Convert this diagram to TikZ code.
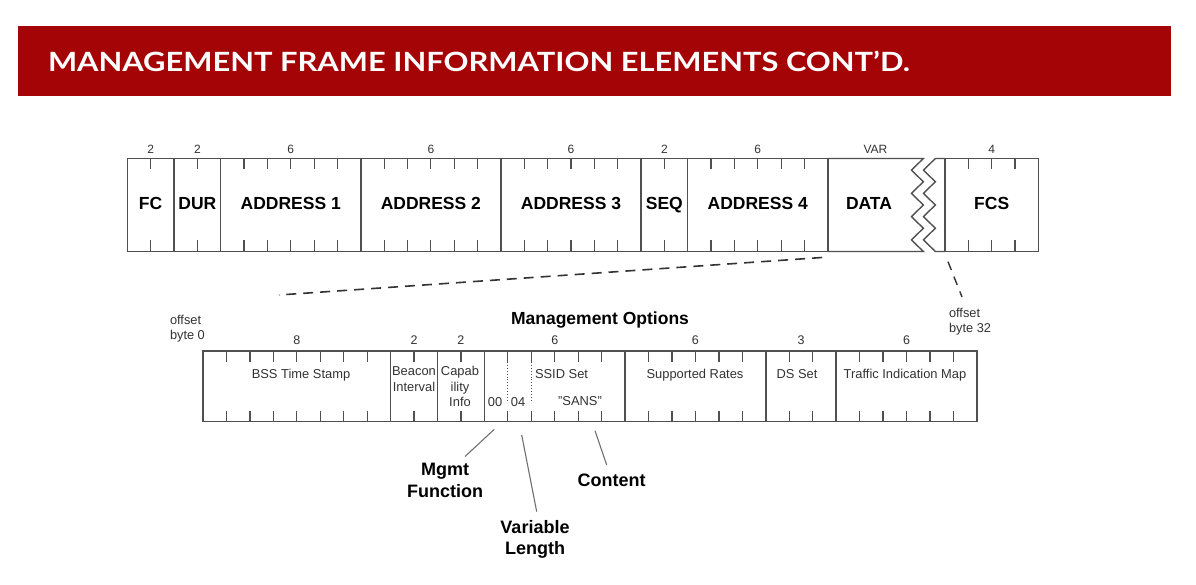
\documentclass[tikz,border=0pt]{standalone}
\usepackage{fontspec}
\setmainfont{Liberation Sans}
\newfontfamily\bannerfont{Lato}[FakeStretch=1.165]
\usetikzlibrary{positioning}
\definecolor{slidered}{HTML}{A50407}
\definecolor{framegray}{HTML}{505050}
\definecolor{labelgray}{HTML}{333333}
\definecolor{pointergray}{HTML}{707070}
\newcommand{\topbyte}{23.35}
\newcommand{\subbyte}{23.45}

\begin{document}
\begin{tikzpicture}[x=1pt,y=-1pt,
		every node/.style={inner sep=0pt,outer sep=0pt},
		topfield/.style={draw=framegray,line width=1.4pt,minimum height=93pt,anchor=north west,text height=12.6pt,text depth=4pt,font=\fontsize{17.5}{18}\selectfont\bfseries},
		subfield/.style={draw=framegray,line width=1.4pt,minimum height=70.5pt,anchor=north west},
		bytecount/.style={font=\fontsize{12}{12}\selectfont,text=labelgray},
		subcount/.style={font=\fontsize{12.5}{13}\selectfont,text=labelgray},
		sublabel/.style={font=\fontsize{12.9}{15.5}\selectfont,text=labelgray,align=center,anchor=north},
		bytetick/.style={draw=framegray,line width=1.2pt},
		framepath/.style={draw=framegray,line width=1.4pt},
		calloutlabel/.style={font=\fontsize{18}{21.5}\selectfont\bfseries,align=center,anchor=north},
		offsetlabel/.style={font=\fontsize{12.8}{15}\selectfont,text=labelgray,align=left,anchor=north west},
		pointer/.style={draw=pointergray,line width=1.1pt},
		expandline/.style={draw=labelgray,line width=1.6pt,dash pattern=on 10pt off 7pt}]
	\path[fill=white] (0,0) rectangle (1196,585);
	\useasboundingbox (0,0) rectangle (1196,585);
	\node[fill=slidered,minimum width=1152.7pt,minimum height=70.3pt,anchor=north west] (banner) at (18,25.7) {};
	\node[anchor=base west,text=white,font=\bannerfont\fontsize{26.5}{28}\selectfont\bfseries] (title) at (48,72) {MANAGEMENT FRAME INFORMATION ELEMENTS CONT’D.};
	\foreach \nm/\bx/\nb/\txt in {fc/0/2/FC,dur/2/2/DUR,addra/4/6/ADDRESS 1,addrb/10/6/ADDRESS 2,addrc/16/6/ADDRESS 3,seq/22/2/SEQ,addrd/24/6/ADDRESS 4}{
		\node[topfield,minimum width=\nb*\topbyte*1pt] (\nm) at ({127.3+\bx*\topbyte},158.5) {\txt};
		\node[bytecount] (\nm count) at ({127.3+(\bx+\nb/2)*\topbyte},149) {\nb};
	}
	\foreach \b in {1,...,29}{
		\draw[bytetick] ({127.3+\b*\topbyte},158.5) -- ++(0,11);
		\draw[bytetick] ({127.3+\b*\topbyte},251.5) -- ++(0,-11);
	}
	\node[font=\fontsize{17.5}{18}\selectfont\bfseries,text height=12.6pt,text depth=4pt] (data) at (869,205) {DATA};
	\node[bytecount] (datacount) at (875.5,149) {VAR};
	\node[topfield,minimum width=4*\topbyte*1pt] (fcs) at (945,158.5) {FCS};
	\node[bytecount] (fcscount) at (991.7,149) {4};
	\foreach \b in {1,2,3}{
		\draw[bytetick] ({945+\b*\topbyte},158.5) -- ++(0,11);
		\draw[bytetick] ({945+\b*\topbyte},251.5) -- ++(0,-11);
	}
	\draw[framepath] (addrd.north east) -- (923.3,158.5)
		\foreach \k in {1,...,8}{ -- ({923.3-11.8*mod(\k,2)},{158.5+\k*11.625}) } -- (addrd.south east);
	\draw[framepath] (fcs.north west) -- (935.3,158.5)
		\foreach \k in {1,...,8}{ -- ({935.3-11.8*mod(\k,2)},{158.5+\k*11.625}) } -- (fcs.south west);
	\foreach \nm/\bx/\nb in {bss/0/8,beacon/8/2,capab/10/2,ssid/12/6,rates/18/6,dsset/24/3,tim/27/6}{
		\node[subfield,minimum width=\nb*\subbyte*1pt] (\nm) at ({203+\bx*\subbyte},351) {};
		\node[subcount] (\nm count) at ({203+(\bx+\nb/2)*\subbyte},340) {\nb};
	}
	\foreach \b in {1,...,32}{
		\draw[bytetick] ({203+\b*\subbyte},351) -- ++(0,11);
		\draw[bytetick] ({203+\b*\subbyte},421.5) -- ++(0,-11);
	}
	\draw[framegray,line width=0.9pt,dotted] (507.9,362) -- (507.9,400);
	\draw[framegray,line width=0.9pt,dotted] (531.4,362) -- (531.4,400);
	\node[sublabel] (bsstext) at (301,369.4) {BSS Time Stamp};
	\node[sublabel] (beacontext) at (414,367) {Beacon\\Interval};
	\node[sublabel] (capabtext) at (460,366.5) {Capab\\ility\\Info};
	\node[sublabel,anchor=north west] (ssidtext) at (535,369.4) {SSID Set};
	\node[sublabel] (mgmtcode) at (495,397) {00};
	\node[sublabel] (lencode) at (518,397) {04};
	\node[sublabel] (ssidvalue) at (580,396.5) {"SANS"};
	\node[sublabel] (ratestext) at (695,369.4) {Supported Rates};
	\node[sublabel] (dstext) at (797,369.4) {DS Set};
	\node[sublabel] (timtext) at (905,369.4) {Traffic Indication Map};
	\node[anchor=base,font=\fontsize{17.5}{18}\selectfont\bfseries] (options) at (600,324.3) {Management Options};
	\node[offsetlabel] (offsetstart) at (170,315.4) {offset\\byte 0};
	\node[offsetlabel] (offsetend) at (949,308) {offset\\byte 32};
	\coordinate (dataend) at (822,257.5);
	\coordinate (optstart) at (279,295);
	\draw[expandline] (dataend) -- (optstart);
	\coordinate (fcsend) at (948,261.7);
	\draw[expandline,line width=1.4pt,dash pattern=on 9pt off 7pt] (fcsend) -- ([xshift=13pt,yshift=11pt]offsetend.north west);
	\node[calloutlabel] (mgmt) at (445,463.5) {Mgmt\\Function};
	\node[calloutlabel] (variable) at (535,520) {Variable\\Length};
	\node[calloutlabel] (content) at (611.7,473.6) {Content};
	\coordinate (mgmttip) at (494.3,429.3);
	\coordinate (lentip) at (521.7,435);
	\coordinate (contenttip) at (595,430.7);
	\draw[pointer] ([xshift=20pt,yshift=7pt]mgmt.north) -- (mgmttip);
	\draw[pointer] ([xshift=1.7pt,yshift=8.3pt]variable.north) -- (lentip);
	\draw[pointer] ([xshift=-5pt,yshift=8.6pt]content.north) -- (contenttip);
\end{tikzpicture}
\end{document}
